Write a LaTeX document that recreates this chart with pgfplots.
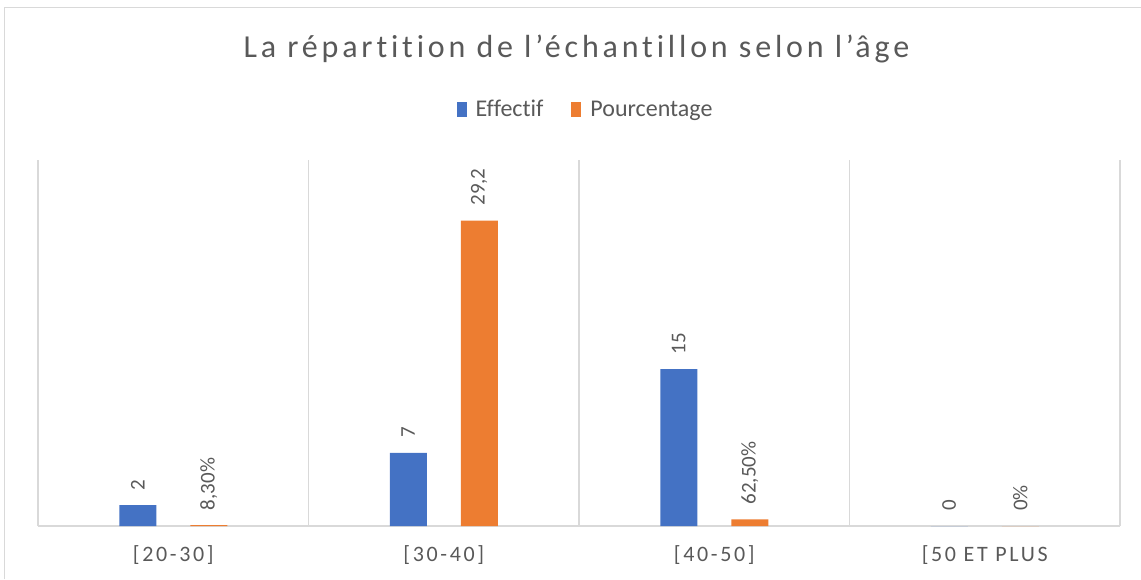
\documentclass[border=0pt]{standalone}
\usepackage{fontspec}
\setmainfont[Ligatures=NoCommon]{Carlito}
\usepackage{pgfplots}
\pgfplotsset{compat=1.18}
\definecolor{effblue}{HTML}{4472C4}
\definecolor{pctorange}{HTML}{ED7D31}
\definecolor{txtgray}{HTML}{595959}
\definecolor{gridgray}{HTML}{D9D9D9}

\begin{document}
\begin{tikzpicture}
% page = 1141 x 579 px at 0.5pt per px
\useasboundingbox (0pt,0pt) rectangle (570.5pt,-289.5pt);
\draw[gridgray, line width=0.6pt] (2.25pt,-289.5pt) -- (2.25pt,-3.75pt) -- (570.5pt,-3.75pt);
\node[text=txtgray, font=\fontsize{16}{19}\selectfont\addfontfeature{LetterSpace=12}]
  at (288.25pt,-24.5pt) {La répartition de l’échantillon selon l’âge};

\begin{axis}[
  at={(19pt,-263pt)}, anchor=south west,
  scale only axis, width=541pt, height=183pt,
  xmin=-0.5, xmax=3.5, ymin=0, ymax=35,
  ybar=17pt, bar width=18.5pt,
  axis line style={draw=none},
  tick style={draw=none},
  xtick={0,1,2,3},
  xticklabels={{[20-30]},{[30-40]},{[40-50]},{[50 ET PLUS}},
  minor xtick={-0.5,0.5,1.5,2.5,3.5},
  xminorgrids,
  ytick={0}, yticklabels={},
  ymajorgrids,
  grid style={gridgray, line width=0.75pt},
  minor grid style={gridgray, line width=0.75pt},
  xticklabel style={font=\fontsize{11}{13}\selectfont\addfontfeature{LetterSpace=12}, text=txtgray, yshift=-2pt},
  legend columns=2,
  legend style={at={(0.507,1.137)}, anchor=center, draw=none, fill=none,
    font=\fontsize{12}{14}\selectfont, text=txtgray,
    /tikz/every even column/.append style={column sep=12pt}},
  legend image code/.code={\fill[#1] (0pt,-3.75pt) rectangle (5pt,3.75pt); \path (7.5pt,0pt);},
  point meta=explicit symbolic,
  nodes near coords,
  nodes near coords style={font=\fontsize{10.5}{12}\selectfont, text=txtgray,
    yshift=4pt, rotate=90, anchor=west},
]
\addplot[fill=effblue, draw=none]
  coordinates {(0,2) [2] (1,7) [7] (2,15) [15] (3,0) [0]};
\addlegendentry{Effectif}
\addplot[fill=pctorange, draw=none]
  coordinates {(0,0.083) [8,30\%] (1,29.2) [29,2] (2,0.625) [62,50\%] (3,0) [0\%]};
\addlegendentry{Pourcentage}
\end{axis}
\end{tikzpicture}
\end{document}
